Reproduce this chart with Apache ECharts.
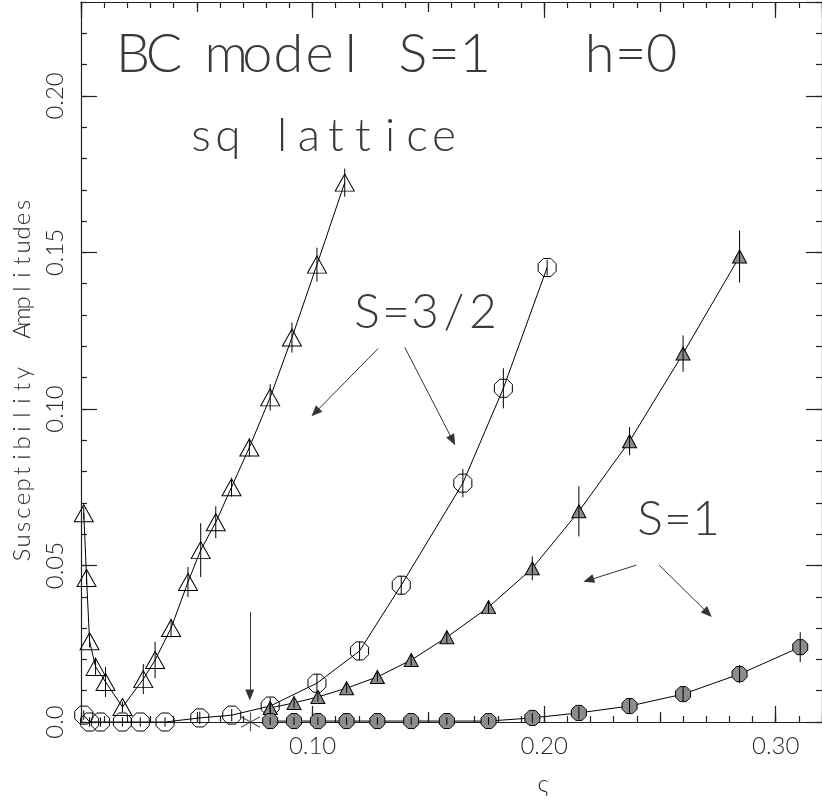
<!DOCTYPE html>
<html><head><meta charset="utf-8">
<script src="https://cdn.jsdelivr.net/npm/echarts@6/dist/echarts.min.js"></script>
<style>html,body{margin:0;padding:0;background:#fff}#c{width:822px;height:803px}</style>
</head><body><div id="c"></div>
<script>
// ---- data ----
const triOpenX = [0.0012,0.0024,0.0037,0.0063,0.0106,0.0179,0.0269,0.0320,0.0389,0.0462,0.0517,0.0582,0.0650,0.0727,0.0817,0.0911,0.1019,0.1139];
const triOpenY = [0.0667,0.0460,0.0258,0.0176,0.0128,0.0048,0.0137,0.0198,0.0300,0.0447,0.0549,0.0638,0.0750,0.0877,0.1037,0.1228,0.1461,0.1723];
const triOpenErr = [0.002,0.002,0.002,0.003,0.0048,0.0017,0.0048,0.0058,0.003,0.0048,0.0086,0.0051,0.003,0.003,0.0042,0.0048,0.0054,0.0045];

const octOpenX = [0.0012,0.0037,0.0084,0.0179,0.0256,0.0363,0.0513,0.0651,0.0817,0.1019,0.1203,0.1383,0.1649,0.1824,0.2013];
const octOpenY = [0.0022,0.0000,0.0000,0.0000,0.0000,0.0000,0.0013,0.0022,0.0051,0.0124,0.0227,0.0437,0.0763,0.1066,0.1452];
const octOpenErr = [0.0015,0.0015,0.0015,0.0015,0.0015,0.0015,0.002,0.002,0.0027,0.003,0.003,0.003,0.0045,0.0064,0.0025];

const triHatchX = [0.0817,0.0920,0.1023,0.1147,0.1280,0.1426,0.1580,0.1760,0.1949,0.2150,0.2369,0.2600,0.2844];
const triHatchY = [0.0045,0.0061,0.0080,0.0108,0.0144,0.0198,0.0271,0.0367,0.0491,0.0673,0.0897,0.1177,0.1487];
const triHatchErr = [0.0015,0.0015,0.0015,0.0015,0.0015,0.002,0.002,0.002,0.0038,0.008,0.0045,0.0058,0.0083];

const octHatchX = [0.0817,0.0920,0.1023,0.1147,0.1280,0.1426,0.1580,0.1760,0.1949,0.2150,0.2369,0.2600,0.2844,0.3106];
const octHatchY = [0.0003,0.0003,0.0003,0.0003,0.0003,0.0003,0.0003,0.0003,0.0013,0.0029,0.0051,0.0089,0.0153,0.0239];
const octHatchErr = [0.0012,0.0012,0.0012,0.0012,0.0012,0.0012,0.0012,0.0012,0.0015,0.002,0.0026,0.0023,0.0029,0.0048];

const starPoint = [[0.0732, 0.0]];
// annotation arrows: [x1, y1, x2, y2] in data units
const arrows = [
  [0.1283,0.1193, 0.1012,0.0989],
  [0.1398,0.1197, 0.1605,0.0900],
  [0.2398,0.0501, 0.2192,0.0453],
  [0.2497,0.0501, 0.2707,0.0348],
  [0.0729,0.0351, 0.0729,0.0086]
];
const xMajorTicks = 0.1, yMajorTicks = 0.05;
const xRange = [0, 0.32], yRange = [0, 0.23];

// ---- helpers ----
const zip = (xs, ys) => xs.map((x, i) => [x, ys[i]]);
const zip3 = (xs, ys, es) => xs.map((x, i) => [x, ys[i], es[i]]);
const HATCH = '#8c8c8c';
const OCT = 'path://M29,0L71,0L100,29L100,71L71,100L29,100L0,71L0,29Z';
const STAR = 'path://M50,0L50,100M6,22L94,78M6,78L94,22';
const FONT = 'Lato';
const TXT = '#2a2a2a';
const BIG = '#3a3a3a';

const chart = echarts.init(document.getElementById('c'), null, {renderer: 'canvas'});

function monoText(str, cx0, cy, pitch, size, weight, color) {
  const out = [];
  for (let i = 0; i < str.length; i++) {
    if (str[i] === ' ') continue;
    out.push({type:'text', x: cx0 + i * pitch, y: cy, silent: true,
      style: {text: str[i], fill: color || TXT, align: 'center', verticalAlign: 'middle',
        font: `${weight} ${size}px ${FONT}`}});
  }
  return out;
}

function xAxisDef(pos, interval, len, labels, line) {
  return {type:'value', position: pos, min: xRange[0], max: xRange[1], interval: interval,
    axisLine: {show: line, onZero: false, lineStyle: {color: '#222', width: 1.2}},
    axisTick: {show: true, inside: true, length: len, lineStyle: {color: '#222', width: 1.2}},
    splitLine: {show: false},
    axisLabel: {show: labels, showMinLabel: false, showMaxLabel: false, margin: 12,
      color: TXT, fontFamily: FONT, fontWeight: 300, fontSize: 24,
      formatter: v => v.toFixed(2)}};
}
function yAxisDef(pos, interval, len, labels, line) {
  return {type:'value', position: pos, min: yRange[0], max: yRange[1], interval: interval,
    axisLine: {show: line, onZero: false, lineStyle: {color: '#222', width: 1.2}},
    axisTick: {show: true, inside: true, length: len, lineStyle: {color: '#222', width: 1.2}},
    splitLine: {show: false},
    axisLabel: {show: labels, showMaxLabel: false, rotate: 90, margin: 14,
      color: TXT, fontFamily: FONT, fontWeight: 300, fontSize: 24,
      formatter: v => (v === 0 ? '0.0' : v.toFixed(2))}};
}

function lineSeries(xs, ys, symbol, size, fill) {
  return {type:'line', xAxisIndex:0, yAxisIndex:0, data: zip(xs, ys), symbol: symbol, symbolSize: size,
    showSymbol: true, showAllSymbol: true, silent: true, animation: false,
    lineStyle: {color: '#000', width: 1},
    itemStyle: {color: fill, borderColor: '#000', borderWidth: 1},
    emphasis: {disabled: true}, z: 3};
}
function errSeries(xs, ys, es) {
  return {type:'custom', xAxisIndex:0, yAxisIndex:0, data: zip3(xs, ys, es), silent: true, animation: false, z: 6,
    renderItem: (params, api) => {
      const x = api.value(0), y = api.value(1), e = api.value(2);
      const p1 = api.coord([x, y - e]), p2 = api.coord([x, y + e]);
      return {type:'line', shape:{x1:p1[0], y1:p1[1], x2:p2[0], y2:p2[1]}, style:{stroke:'#000', lineWidth:1}};
    }};
}

const option = {
  backgroundColor: '#fff',
  animation: false,
  grid: {left: 81, top: 2, width: 746, height: 720, containLabel: false},
  xAxis: [
    xAxisDef('bottom', xMajorTicks, 16, true, true),
    xAxisDef('bottom', 0.05, 10, false, false),
    xAxisDef('bottom', 0.01, 6, false, false),
    xAxisDef('top', xMajorTicks, 16, false, true),
    xAxisDef('top', 0.05, 10, false, false),
    xAxisDef('top', 0.01, 6, false, false)
  ],
  yAxis: [
    yAxisDef('left', yMajorTicks, 16, true, true),
    yAxisDef('left', 0.01, 6, false, false),
    yAxisDef('right', yMajorTicks, 16, false, true),
    yAxisDef('right', 0.01, 6, false, false)
  ],
  series: [
    lineSeries(triOpenX, triOpenY, 'triangle', [19, 17], 'rgba(0,0,0,0)'),
    lineSeries(octOpenX, octOpenY, OCT, 18, 'rgba(0,0,0,0)'),
    lineSeries(triHatchX, triHatchY, 'triangle', [14, 13], HATCH),
    lineSeries(octHatchX, octHatchY, OCT, 15, HATCH),
    errSeries(triOpenX, triOpenY, triOpenErr),
    errSeries(octOpenX, octOpenY, octOpenErr),
    errSeries(triHatchX, triHatchY, triHatchErr),
    errSeries(octHatchX, octHatchY, octHatchErr),
    {type:'scatter', xAxisIndex:0, yAxisIndex:0, data: starPoint, symbol: STAR, symbolSize: 19,
      silent: true, itemStyle: {color: 'rgba(0,0,0,0)', borderColor: '#333', borderWidth: 1.2}, z: 4,
      markLine: {silent: true, symbol: ['none', 'triangle'], symbolSize: [9, 11], animation: false,
        label: {show: false}, emphasis: {disabled: true},
        lineStyle: {color: '#333', type: 'solid', width: 1},
        itemStyle: {color: '#666'},
        data: arrows.map(a => [{coord: [a[0], a[1]]}, {coord: [a[2], a[3]]}])}}
  ],
  graphic: [].concat(
    monoText('BC model S=1   h=0', 133, 55, 31.1, 54, 300, BIG),
    monoText('sq lattice', 201, 136, 27, 46, 300, BIG),
    monoText('S=3/2', 367, 313, 29, 48, 300, BIG),
    monoText('S=1', 650, 520, 28, 48, 300, BIG),
    [{type:'text', x: 543, y: 784, silent: true,
      style: {text: 'ς', fill: TXT, align: 'center', verticalAlign: 'middle', font: `300 24px ${FONT}`}},
     {type:'group', x: 22, y: 380, rotation: Math.PI / 2, silent: true,
      children: monoText('Susceptibility  Amplitudes', -175, 0, 14, 24, 300)}]
  )
};
chart.setOption(option);
</script>
</body></html>
